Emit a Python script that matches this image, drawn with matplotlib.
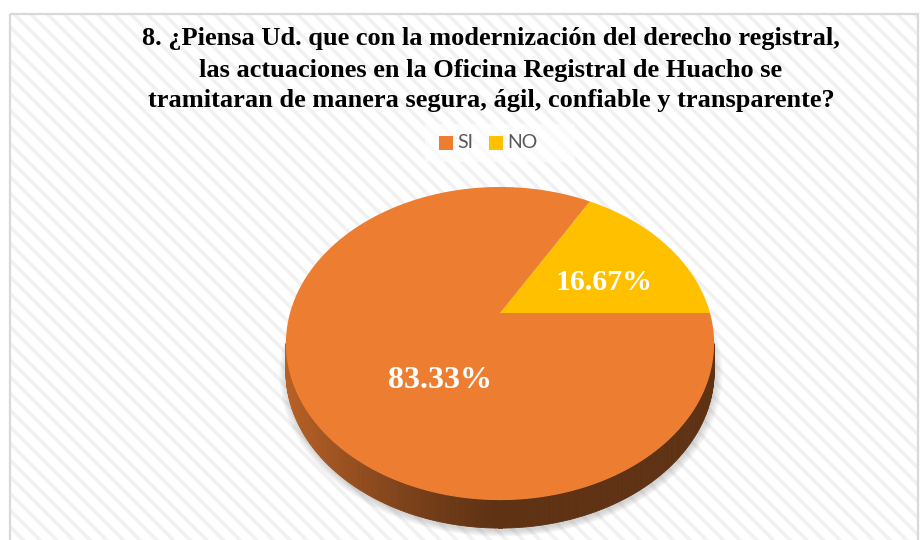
import numpy as np
import matplotlib
matplotlib.use('Agg')
from matplotlib import pyplot as plt
from matplotlib.patches import Polygon, Rectangle

# data
labels = ['SI', 'NO']
values = [83.33, 16.67]
label_txt = ['83.33%', '16.67%']
colors = ['#ED7D31', '#FFC000']
title_lines = ['8. ¿Piensa Ud. que con la modernización del derecho registral,',
               'las actuaciones en la Oficina Registral de Huacho se',
               'tramitaran de manera segura, ágil, confiable y transparente?']

plt.rcParams['hatch.linewidth'] = 2.6

fig = plt.figure(figsize=(9.21, 5.40), dpi=100)
ax = fig.add_axes([0, 0, 1, 1])
ax.set_xlim(0, 921)
ax.set_ylim(540, 0)
ax.axis('off')

# chart area: white with faint diagonal stripes and a grey frame
ax.add_patch(Rectangle((10, 14), 908, 540, facecolor='white', edgecolor='#f1f1f1',
                       hatch='\\\\', linewidth=0, zorder=0))
ax.add_patch(Rectangle((10, 14), 908, 540, facecolor='none', edgecolor='#d9d9d9',
                       linewidth=1.6, zorder=1))

# perspective pie geometry (pixels)
X0, Y0, A, B, k = 500, 313, 210, 150.6, 0.195
depth = 28


def proj(t):
    u, v = np.cos(t), np.sin(t)
    d = 1 + k * v
    return X0 + A * u / d, Y0 - B * v / d


# slice angles: NO starts at 3 o'clock going counter-clockwise, SI follows
fr = np.array(values[::-1]) / sum(values)
edges = np.concatenate([[0], np.cumsum(fr)]) * 2 * np.pi
slice_ranges = {labels[::-1][i]: (edges[i], edges[i + 1]) for i in range(len(values))}

# soft shadow
tt = np.linspace(0, 2 * np.pi, 300)
sx, sy = proj(tt)
for i, s in enumerate(np.linspace(1.0, 1.035, 7)):
    px = X0 + (sx - X0) * s + 1
    py = 344 + (sy - 344) * s + depth + 3
    ax.add_patch(Polygon(np.column_stack([px, py]), closed=True, facecolor='#808080',
                         edgecolor='none', alpha=0.05, zorder=2))

# side wall (front part), shaded left -> right
t_side = np.linspace(np.pi + np.arcsin(k), 2 * np.pi - np.arcsin(k), 240)
for i in range(len(t_side) - 1):
    ta, tb = t_side[i], t_side[i + 1]
    tm = (ta + tb) / 2 % (2 * np.pi)
    col = colors[0]
    for lab, (a0, a1) in slice_ranges.items():
        if a0 <= tm < a1:
            col = colors[labels.index(lab)]
    xa, ya = proj(ta)
    xb, yb = proj(tb)
    f = np.clip((500 - (xa + xb) / 2) / 210, 0, 1)
    fac = 0.40 + 0.37 * f ** 1.3
    rgb = np.array(matplotlib.colors.to_rgb(col)) * fac
    ax.add_patch(Polygon([[xa, ya], [xb, yb], [xb, yb + depth], [xa, ya + depth]],
                         closed=True, facecolor=rgb, edgecolor=rgb, linewidth=0.6, zorder=3))

# top face
for lab, (a0, a1) in slice_ranges.items():
    t = np.linspace(a0, a1, 200)
    px, py = proj(t)
    pts = np.column_stack([np.concatenate([[X0], px]), np.concatenate([[Y0], py])])
    ax.add_patch(Polygon(pts, closed=True, facecolor=colors[labels.index(lab)],
                         edgecolor='none', zorder=4))

# data labels
label_pos = {'SI': (440, 380), 'NO': (604, 282)}
label_size = {'SI': 23, 'NO': 21.5}
for lab, txt in zip(labels, label_txt):
    ax.text(*label_pos[lab], txt, ha='center', va='center', color='white',
            fontsize=label_size[lab], fontweight='bold', family='Liberation Serif', zorder=5)

# title
for i, line in enumerate(title_lines):
    ax.text(491, 39 + 31 * i, line, ha='center', va='center', fontsize=19,
            fontweight='bold', family='Liberation Serif', color='black', zorder=5)

# legend
ax.add_patch(Rectangle((425, 124), 150, 38, facecolor='white', edgecolor='none', alpha=0.6, zorder=1))
leg_x = [439, 489]
for lab, col, lx in zip(labels, colors, leg_x):
    ax.add_patch(Rectangle((lx, 135.5), 14, 14, facecolor=col, edgecolor='none', zorder=5))
    ax.text(lx + 18, 143, lab, ha='left', va='center', fontsize=14, color='#595959',
            family='Lato', zorder=5)

fig.savefig('out.png', dpi=100)
